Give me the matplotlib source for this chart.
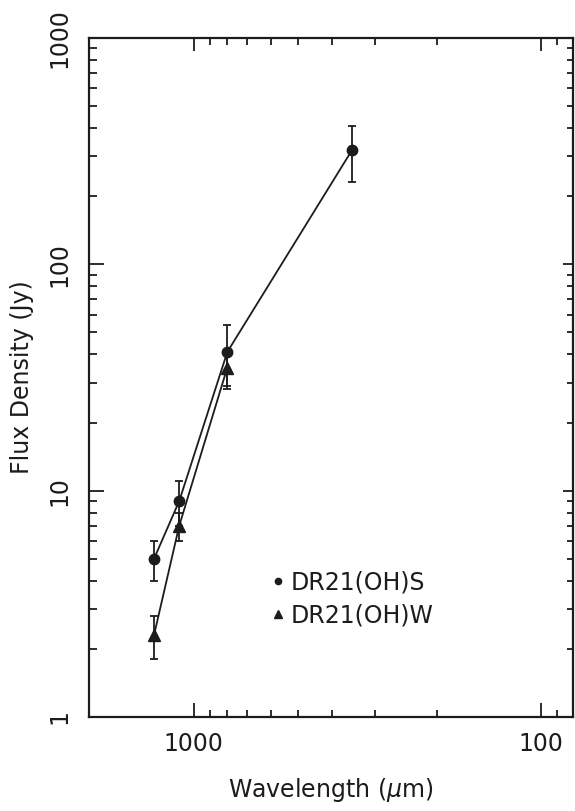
import matplotlib
matplotlib.use("Agg")
import matplotlib.pyplot as plt
from matplotlib.ticker import FixedLocator, NullFormatter, FuncFormatter, LogLocator
from matplotlib.lines import Line2D

# Data
wl_S = [1300, 1100, 800, 350]
flux_S = [5.0, 9.0, 41.0, 320.0]
err_S = [1.0, 2.0, 13.0, 90.0]

wl_W = [1300, 1100, 800]
flux_W = [2.3, 7.0, 35.0]
err_W = [0.5, 1.0, 6.0]

labels = ["DR21(OH)S", "DR21(OH)W"]
xticks = [1000, 100]
yticks = [1, 10, 100, 1000]

plt.rcParams['font.family'] = ['DejaVu Sans']
plt.rcParams['mathtext.fontset'] = 'dejavusans'
ink = '#1c1c1c'

fig = plt.figure(figsize=(5.75, 8.11), dpi=100)
ax = fig.add_axes([89/575, 1 - 717/811, (573-89)/575, (717-38)/811])

ax.set_xscale('log')
ax.set_yscale('log')
ax.set_xlim(2000, 81)
ax.set_ylim(1, 1000)

ax.errorbar(wl_S, flux_S, yerr=err_S, fmt='-o', color=ink, ms=7.5, lw=1.3,
            elinewidth=1.3, capsize=3, capthick=1.3)
ax.errorbar(wl_W, flux_W, yerr=err_W, fmt='-^', color=ink, ms=8.5, lw=1.3,
            elinewidth=1.3, capsize=3, capthick=1.3)

fmt = FuncFormatter(lambda v, p: f'{v:g}')
ax.xaxis.set_major_locator(FixedLocator(xticks))
ax.xaxis.set_major_formatter(fmt)
ax.xaxis.set_minor_locator(LogLocator(base=10, subs=range(2, 10), numticks=20))
ax.xaxis.set_minor_formatter(NullFormatter())
ax.yaxis.set_major_locator(FixedLocator(yticks))
ax.yaxis.set_major_formatter(fmt)
ax.yaxis.set_minor_locator(LogLocator(base=10, subs=range(2, 10), numticks=20))
ax.yaxis.set_minor_formatter(NullFormatter())

ax.tick_params(axis='both', which='both', direction='in', colors=ink, width=1.3,
               top=False, right=False, labelsize=17, labelcolor=ink)
ax.tick_params(axis='x', which='major', length=10, pad=11)
ax.tick_params(axis='x', which='minor', length=5)
ax.tick_params(axis='y', which='major', length=11, pad=13)
ax.tick_params(axis='y', which='minor', length=6)
for lbl in ax.get_yticklabels():
    lbl.set_rotation(90)
    lbl.set_va('center')

for sp in ax.spines.values():
    sp.set_linewidth(1.6)
    sp.set_color(ink)

# right and top ticks (shorter)
axr = ax.twinx()
axr.set_yscale('log')
axr.set_ylim(1, 1000)
axr.yaxis.set_major_locator(FixedLocator(yticks))
axr.yaxis.set_minor_locator(LogLocator(base=10, subs=range(2, 10), numticks=20))
axr.tick_params(axis='y', which='both', direction='in', colors=ink, width=1.3,
                labelright=False)
axr.tick_params(axis='y', which='major', length=7)
axr.tick_params(axis='y', which='minor', length=4)
axt = ax.twiny()
axt.set_xscale('log')
axt.set_xlim(2000, 81)
axt.xaxis.set_major_locator(FixedLocator(xticks))
axt.xaxis.set_minor_locator(LogLocator(base=10, subs=range(2, 10), numticks=20))
axt.tick_params(axis='x', which='both', direction='in', colors=ink, width=1.3,
                labeltop=False)
axt.tick_params(axis='x', which='major', length=9)
axt.tick_params(axis='x', which='minor', length=5)
for a in (axr, axt):
    for sp in a.spines.values():
        sp.set_visible(False)

ax.set_xlabel(r'Wavelength ($\mu$m)', fontsize=17, color=ink, labelpad=14)
ax.set_ylabel('Flux Density (Jy)', fontsize=17, color=ink, labelpad=9)

handles = [Line2D([], [], marker='o', ls='none', color=ink, ms=4.5),
           Line2D([], [], marker='^', ls='none', color=ink, ms=5.5)]
leg = ax.legend(handles, labels, loc='upper left', bbox_to_anchor=(0.375, 0.216),
                frameon=False, fontsize=17, handlelength=0.6, handletextpad=0.25,
                labelspacing=0.38, borderpad=0, borderaxespad=0)
for t in leg.get_texts():
    t.set_color(ink)

fig.savefig('out.png', dpi=100, facecolor='white')
